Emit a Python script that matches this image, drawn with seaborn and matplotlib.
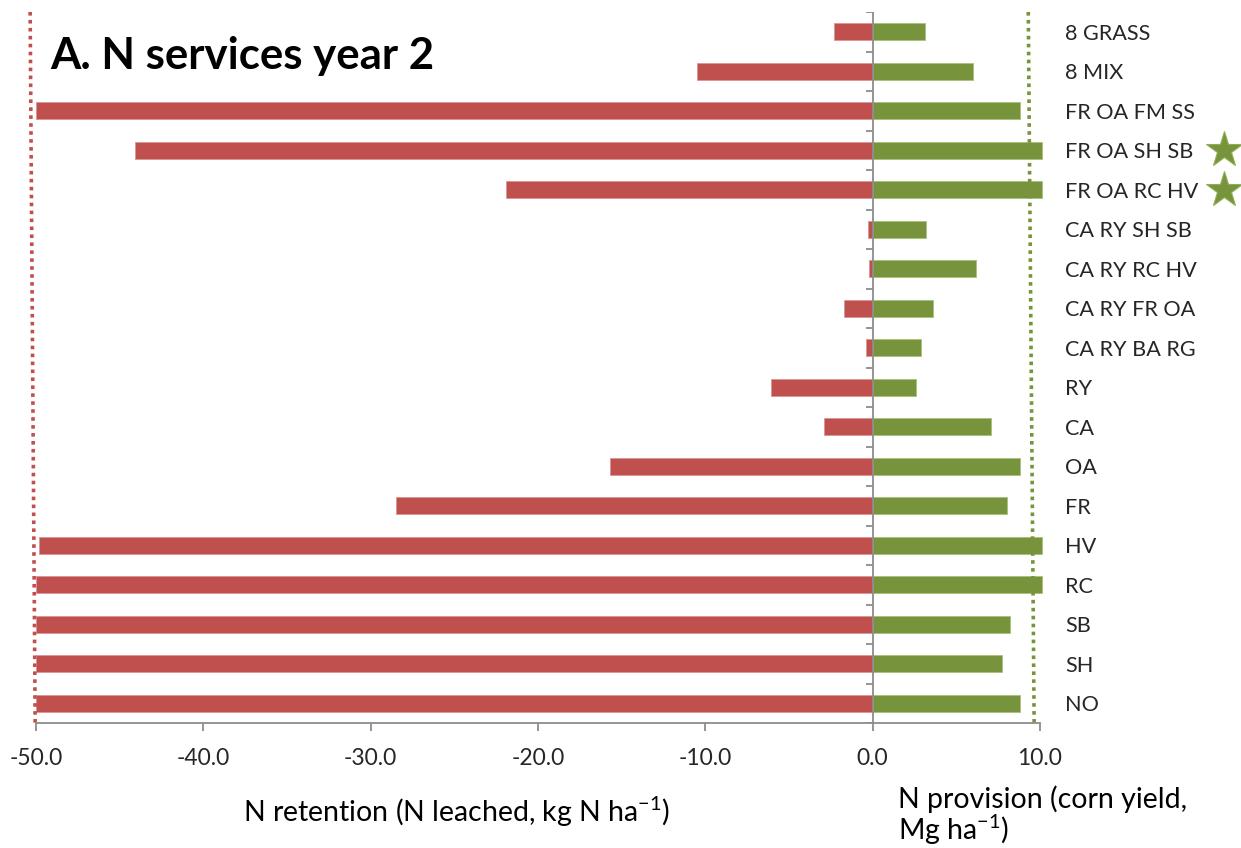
import matplotlib
matplotlib.use("Agg")
import matplotlib.pyplot as plt
import matplotlib.transforms as mtransforms
import numpy as np
import pandas as pd
import seaborn as sns

categories = ["8 GRASS", "8 MIX", "FR OA FM SS", "FR OA SH SB", "FR OA RC HV",
              "CA RY SH SB", "CA RY RC HV", "CA RY FR OA", "CA RY BA RG", "RY",
              "CA", "OA", "FR", "HV", "RC", "SB", "SH", "NO"]
n_leached = [-2.3, -10.5, -50.0, -44.1, -21.9, -0.3, -0.2, -1.7, -0.4, -6.1,
             -2.9, -15.7, -28.5, -49.8, -50.0, -50.0, -50.0, -50.0]
corn_yield = [3.1, 6.0, 8.8, 10.1, 10.1, 3.2, 6.2, 3.6, 2.9, 2.6,
              7.1, 8.8, 8.0, 10.1, 10.1, 8.2, 7.7, 8.8]
starred = ["FR OA SH SB", "FR OA RC HV"]
leach_ref = [-50.35, -50.05]   # dotted reference line (top, bottom)
yield_ref = [9.3, 9.65]        # dotted reference line (top, bottom)
x_ticks = [-50, -40, -30, -20, -10, 0, 10]

RED = "#C0504D"
GREEN = "#77933C"

sns.set_theme(style="white")
plt.rcParams["font.family"] = ["Lato", "DejaVu Sans"]

df = pd.DataFrame({"cat": categories, "leach": n_leached, "yield": corn_yield})

fig = plt.figure(figsize=(12.41, 8.48), dpi=100)
ax = fig.add_axes([36/1241, 1-723/848, (1040-36)/1241, (723-12)/848])

sns.barplot(data=df, x="leach", y="cat", orient="h", order=categories,
            color=RED, saturation=1, width=0.44, ax=ax, edgecolor="#D99694", linewidth=0.6)
sns.barplot(data=df, x="yield", y="cat", orient="h", order=categories,
            color=GREEN, saturation=1, width=0.44, ax=ax, edgecolor="#A6C27A", linewidth=0.6)
for p in ax.patches:
    p.set_clip_on(False)

n = len(categories)
ax.set_xlim(x_ticks[0], x_ticks[-1])
ax.set_ylim(n - 0.5, -0.5)

# dotted reference lines
ax.plot(leach_ref, [-0.5, n - 0.5], color=RED, linestyle=(0, (1, 1.2)), linewidth=2.6, clip_on=False)
ax.plot(yield_ref, [-0.5, n - 0.5], color=GREEN, linestyle=(0, (1, 1.2)), linewidth=2.6, clip_on=False)

# zero axis with category-boundary ticks
ax.axvline(0, color="#8C8C8C", linewidth=1.3)
bounds = np.arange(n + 1) - 0.5
ax.hlines(bounds, -0.42, 0, color="#8C8C8C", linewidth=1.3)

# x axis
ax.set_xticks(x_ticks)
ax.set_xticklabels([f"{v:.1f}" for v in x_ticks])
for s in ["top", "right", "left"]:
    ax.spines[s].set_visible(False)
ax.spines["bottom"].set_color("#8C8C8C")
ax.spines["bottom"].set_linewidth(1.3)
ax.tick_params(axis="x", direction="out", length=6, width=1.3, color="#8C8C8C",
               labelsize=16.5, pad=12, bottom=True)

# category labels on the right
ax.yaxis.tick_right()
ax.tick_params(axis="y", length=0, pad=18, labelsize=15.6, right=False)
ax.set_ylabel("")
ax.set_xlabel("")

# stars
trans = mtransforms.blended_transform_factory(ax.transAxes, ax.transData)
star_y = [categories.index(c) for c in starred]
ax.plot([1.183] * len(star_y), star_y, marker="*", linestyle="none", markersize=27,
        color=GREEN, markeredgecolor="#8FAE55", markeredgewidth=0.8,
        transform=trans, clip_on=False)

# title and axis titles
fig.text(50/1241, 1-56/848, "A. N services year 2", fontsize=31.5, fontweight="bold",
         ha="left", va="center", color="black")
fig.text(457/1241, 1-812/848, "N retention (N leached, kg N ha$^{\\mathregular{-1}}$)",
         fontsize=20.5, ha="center", va="center", color="black")
fig.text(898/1241, 1-799/848, "N provision (corn yield,", fontsize=20.5,
         ha="left", va="center", color="black")
fig.text(898/1241, 1-830/848, "Mg ha$^{\\mathregular{-1}}$)", fontsize=20.5,
         ha="left", va="center", color="black")

fig.savefig("out.png", dpi=100)
